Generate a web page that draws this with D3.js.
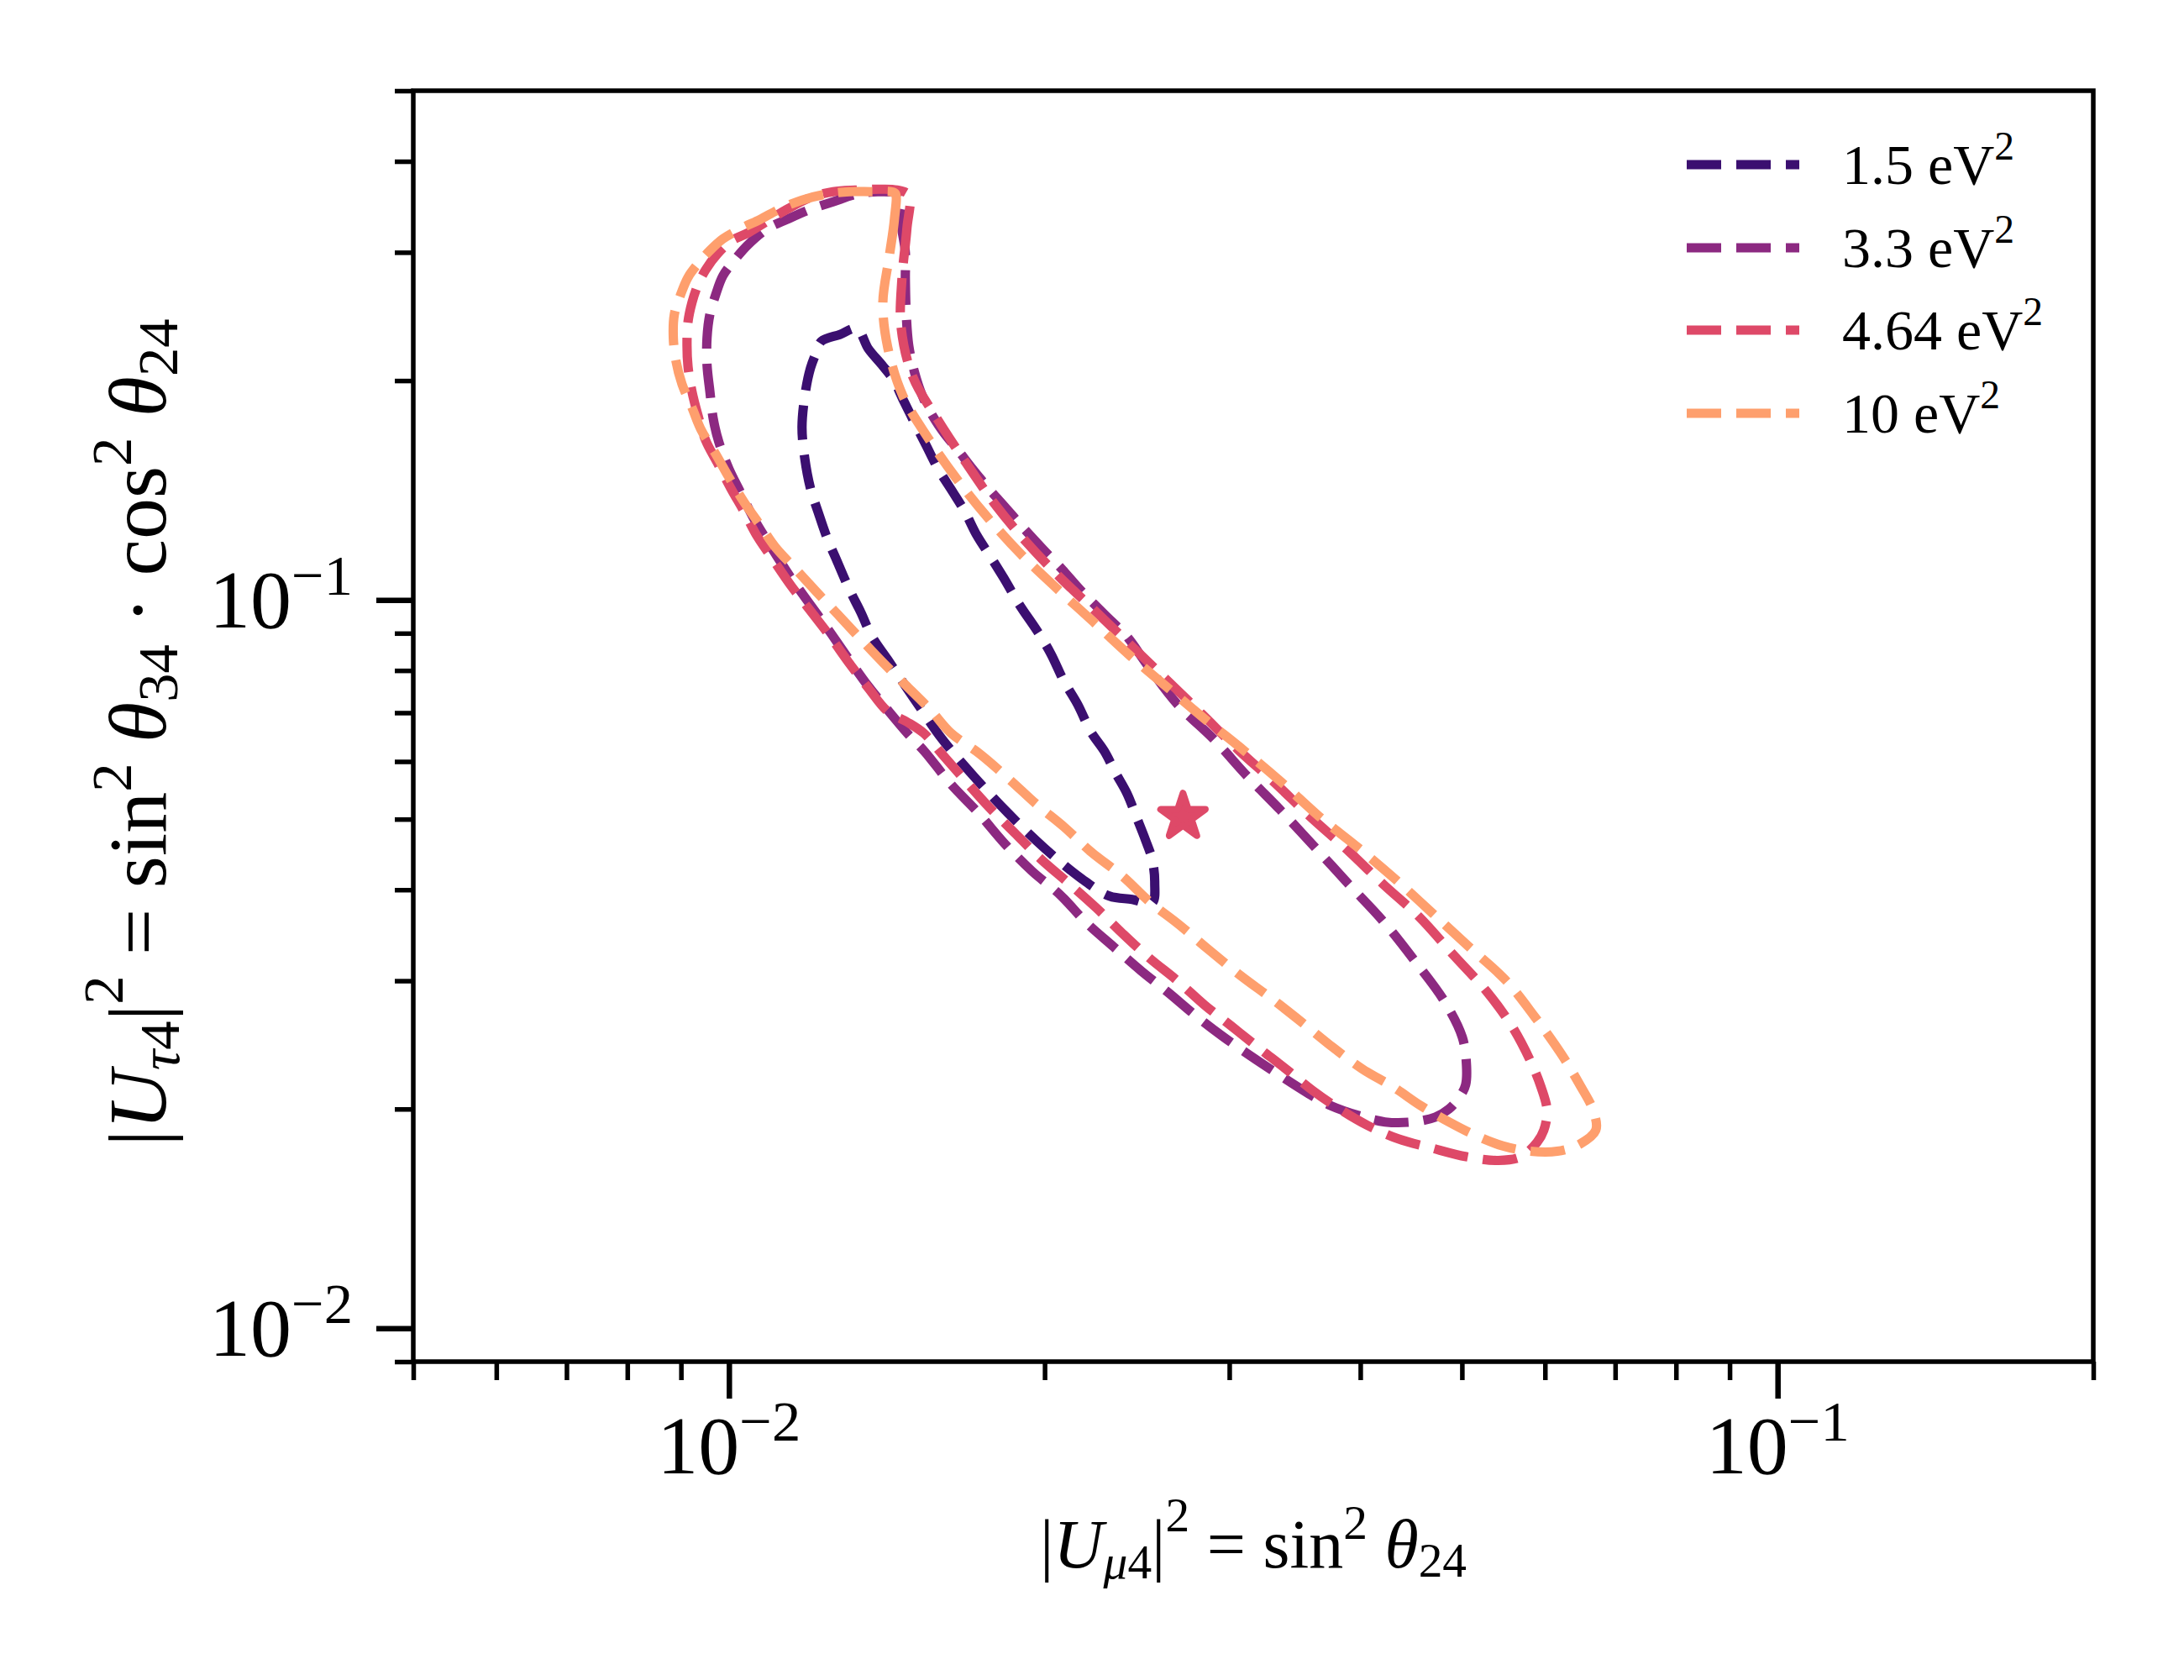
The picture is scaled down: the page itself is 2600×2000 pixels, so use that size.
<!DOCTYPE html>
<html>
<head>
<meta charset="utf-8">
<script src="https://cdn.jsdelivr.net/npm/d3@7"></script>
<style>
html,body{margin:0;padding:0;background:#fff;}
svg{display:block;}
</style>
</head>
<body>
<script>
// ---------- data ----------
const xMajorTicks = [0.01, 0.1];
const xMinorTicks = [0.005,0.006,0.007,0.008,0.009,0.02,0.03,0.04,0.05,0.06,0.07,0.08,0.09,0.2];
const yMajorTicks = [0.01, 0.1];
const yMinorTicks = [0.009,0.02,0.03,0.04,0.05,0.06,0.07,0.08,0.09,0.2,0.3,0.4,0.5];
const xTickExp = ["−2", "−1"];
const yTickExp = ["−2", "−1"];

const seriesLabels = ["1.5", "3.3", "4.64", "10"];
const seriesColors = ["#3b0f70", "#8c2981", "#de4968", "#fe9f6d"];

const contour_1_5 = [[0.01324,0.2357],[0.01358,0.2212],[0.01399,0.2102],[0.01435,0.2005],[0.01465,0.1886],[0.01503,0.1751],[0.01543,0.1626],[0.01583,0.1513],[0.01636,0.1404],[0.01679,0.1321],[0.01723,0.1227],[0.01781,0.1139],[0.01828,0.1072],[0.01893,0.0984],[0.01968,0.0906],[0.02027,0.0844],[0.02087,0.0773],[0.0215,0.0719],[0.02214,0.0659],[0.0228,0.0620],[0.0234,0.0577],[0.02397,0.0542],[0.02446,0.0504],[0.02496,0.0468],[0.02533,0.0440],[0.02547,0.0409],[0.02533,0.0384],[0.02424,0.0388],[0.02306,0.0392],[0.0217,0.0414],[0.01997,0.0457],[0.01845,0.0510],[0.01711,0.0573],[0.01597,0.0644],[0.01517,0.0716],[0.01465,0.0771],[0.01417,0.0828],[0.01368,0.0892],[0.01336,0.0961],[0.01302,0.1035],[0.01269,0.1127],[0.01241,0.1214],[0.01216,0.1321],[0.01196,0.1423],[0.01181,0.1566],[0.01174,0.1728],[0.01183,0.1932],[0.01196,0.2080],[0.01211,0.2183],[0.01225,0.2265],[0.01276,0.2314]];

const contour_3_3 = [[0.01465,0.3586],[0.01459,0.3311],[0.01473,0.3002],[0.01473,0.2757],[0.01476,0.2466],[0.01484,0.2235],[0.01503,0.2053],[0.01529,0.1906],[0.01562,0.1794],[0.01603,0.1696],[0.01652,0.1608],[0.01707,0.1513],[0.01768,0.1423],[0.01838,0.1336],[0.01907,0.1257],[0.0199,0.1176],[0.0208,0.1100],[0.0217,0.1027],[0.0228,0.0956],[0.02402,0.0887],[0.02501,0.0817],[0.02677,0.0719],[0.02899,0.0644],[0.0312,0.0573],[0.03359,0.0514],[0.03623,0.0457],[0.039,0.0407],[0.04207,0.0362],[0.04504,0.0320],[0.04805,0.0282],[0.05004,0.0251],[0.0505,0.0230],[0.05041,0.0216],[0.04977,0.0208],[0.04859,0.0200],[0.04717,0.0195],[0.04487,0.0192],[0.04223,0.0192],[0.03981,0.0196],[0.03752,0.0202],[0.0357,0.0210],[0.03328,0.0224],[0.03138,0.0237],[0.02953,0.0252],[0.02784,0.0269],[0.02624,0.0289],[0.02469,0.0310],[0.02327,0.0334],[0.02194,0.0360],[0.02068,0.0394],[0.01946,0.0424],[0.01834,0.0462],[0.01729,0.0510],[0.01627,0.0559],[0.01537,0.0619],[0.01478,0.0657],[0.01417,0.0706],[0.01358,0.0761],[0.01302,0.0828],[0.01248,0.0904],[0.01196,0.0984],[0.01146,0.1072],[0.01097,0.1182],[0.01057,0.1290],[0.01026,0.1404],[0.0100,0.1513],[0.00978,0.1647],[0.00966,0.1774],[0.00959,0.1932],[0.00953,0.2102],[0.00953,0.2289],[0.00959,0.2466],[0.00971,0.2621],[0.00987,0.2787],[0.01013,0.2931],[0.01043,0.3074],[0.01088,0.3233],[0.01136,0.3329],[0.01196,0.3437],[0.01257,0.3520],[0.01324,0.3605],[0.01394,0.3634]];

const contour_4_64 = [[0.01484,0.3595],[0.01478,0.3233],[0.01462,0.2757],[0.01459,0.2376],[0.01497,0.2026],[0.01588,0.1751],[0.01679,0.1550],[0.01798,0.1346],[0.01924,0.1198],[0.02068,0.1074],[0.02226,0.0971],[0.02411,0.0869],[0.02609,0.0779],[0.02825,0.0697],[0.03058,0.0623],[0.0331,0.0562],[0.03583,0.0504],[0.03879,0.0455],[0.04207,0.0407],[0.04553,0.0367],[0.04903,0.0326],[0.05279,0.0290],[0.05579,0.0260],[0.0581,0.0233],[0.05951,0.0214],[0.06028,0.0199],[0.05984,0.0187],[0.05896,0.0180],[0.05692,0.0172],[0.05417,0.0170],[0.0505,0.0172],[0.04666,0.0177],[0.04348,0.0182],[0.04062,0.0190],[0.03822,0.0200],[0.03604,0.0212],[0.03397,0.0227],[0.03196,0.0243],[0.03013,0.0260],[0.0284,0.0278],[0.02677,0.0300],[0.02519,0.0322],[0.02375,0.0348],[0.02239,0.0378],[0.02106,0.0409],[0.01986,0.0440],[0.01872,0.0479],[0.01771,0.0519],[0.01676,0.0567],[0.01597,0.0614],[0.01534,0.0656],[0.01478,0.0680],[0.01417,0.0703],[0.01358,0.0757],[0.01302,0.0819],[0.01248,0.0892],[0.01196,0.0966],[0.01146,0.1046],[0.01103,0.1133],[0.01065,0.1220],[0.01034,0.1321],[0.01004,0.1423],[0.00975,0.1542],[0.0095,0.1656],[0.00934,0.1794],[0.00922,0.1932],[0.00914,0.2092],[0.00912,0.2235],[0.00914,0.2408],[0.00922,0.2559],[0.00934,0.2706],[0.0095,0.2838],[0.00975,0.2985],[0.01007,0.3115],[0.01043,0.3190],[0.01088,0.3311],[0.01136,0.3437],[0.01196,0.3567],[0.01257,0.3634],[0.01324,0.3653],[0.01394,0.3663],[0.01446,0.3653]];

const contour_10 = [[0.01441,0.3614],[0.01438,0.3329],[0.01422,0.2962],[0.01402,0.2559],[0.01417,0.2223],[0.01465,0.1906],[0.01548,0.1669],[0.01649,0.1466],[0.01765,0.1297],[0.0190,0.1154],[0.02057,0.1035],[0.02226,0.0933],[0.02411,0.0839],[0.02628,0.0755],[0.02851,0.0684],[0.03103,0.0620],[0.03378,0.0559],[0.03656,0.0504],[0.03981,0.0457],[0.04333,0.0412],[0.04691,0.0371],[0.05078,0.0334],[0.05498,0.0301],[0.05864,0.0268],[0.06219,0.0238],[0.06476,0.0216],[0.06671,0.0199],[0.06708,0.0187],[0.06476,0.0179],[0.06163,0.0175],[0.0581,0.0175],[0.05468,0.0178],[0.05152,0.0184],[0.04859,0.0192],[0.04571,0.0202],[0.04309,0.0214],[0.04018,0.0227],[0.03767,0.0243],[0.03531,0.0262],[0.03298,0.0283],[0.03075,0.0305],[0.02867,0.0331],[0.02688,0.0358],[0.02519,0.0385],[0.02375,0.0417],[0.02214,0.0451],[0.02087,0.0488],[0.01968,0.0523],[0.01851,0.0567],[0.01736,0.0614],[0.01627,0.0657],[0.01557,0.0706],[0.01478,0.0761],[0.01404,0.0819],[0.01336,0.0883],[0.01269,0.0956],[0.01211,0.1027],[0.01155,0.1106],[0.01107,0.1182],[0.01071,0.1266],[0.01034,0.1361],[0.0100,0.1473],[0.00971,0.1587],[0.00941,0.1710],[0.00922,0.1837],[0.00902,0.1978],[0.0089,0.2131],[0.00885,0.2289],[0.00887,0.2466],[0.00899,0.2621],[0.00914,0.2772],[0.00934,0.2892],[0.00959,0.3017],[0.00987,0.3131],[0.01026,0.3233],[0.01071,0.3329],[0.01117,0.3437],[0.01174,0.3539],[0.01236,0.3605],[0.01302,0.3634],[0.01368,0.3634],[0.01427,0.3634]];

const contours = [contour_1_5, contour_3_3, contour_4_64, contour_10];
const bestFit = [0.0271, 0.0504];

// ---------- layout ----------
const W = 2600, H = 2000;
const L = 492, R = 2492, T = 108, B = 1621;
const FONT = "'Liberation Serif', 'DejaVu Serif', serif";
const LW = 11.1;
const DASH = "41,18";

const svg = d3.select("body").append("svg")
  .attr("width", W).attr("height", H).attr("viewBox", `0 0 ${W} ${H}`);
svg.append("rect").attr("width", W).attr("height", H).attr("fill", "#fff");

const x = d3.scaleLog().domain([0.005, 0.2]).range([L, R]);
const y = d3.scaleLog().domain([0.009, 0.5]).range([B, T]);

// rich text helper: parts = [text, {i: italic, sz: scale, sh: shift(em, +down)}]
function rich(parent, parts, fs, attrs) {
  const t = parent.append("text").attr("font-family", FONT).attr("font-size", fs).attr("fill", "#000");
  Object.entries(attrs || {}).forEach(([k, v]) => t.attr(k, v));
  let cur = 0;
  parts.forEach(p => {
    const o = p[1] || {};
    const sh = (o.sh || 0) * fs;
    const ts = t.append("tspan").text(p[0])
      .attr("font-size", fs * (o.sz || 1))
      .attr("dy", sh - cur);
    if (o.i) ts.attr("font-style", "italic");
    cur = sh;
  });
  return t;
}

// ---------- contours ----------
const line = d3.line().x(d => x(d[0])).y(d => y(d[1])).curve(d3.curveCatmullRomClosed.alpha(0.5));
const gC = svg.append("g");
contours.forEach((c, k) => {
  gC.append("path").attr("d", line(c))
    .attr("fill", "none").attr("stroke", seriesColors[k])
    .attr("stroke-width", LW).attr("stroke-dasharray", DASH)
    .attr("stroke-linejoin", "round").attr("stroke-linecap", "butt");
});

// best-fit star
const starPts = [];
for (let k = 0; k < 10; k++) {
  const r = k % 2 === 0 ? 28 : 28 * 0.381966;
  const a = -Math.PI / 2 + k * Math.PI / 5;
  starPts.push([r * Math.cos(a), r * Math.sin(a)]);
}
svg.append("path")
  .attr("d", "M" + starPts.map(p => p.join(",")).join("L") + "Z")
  .attr("transform", `translate(${x(bestFit[0])},${y(bestFit[1])})`)
  .attr("fill", seriesColors[2]).attr("stroke", seriesColors[2])
  .attr("stroke-width", 8).attr("stroke-linejoin", "round");

// ---------- axes ----------
function styleAxis(g, w) {
  g.select(".domain").remove();
  g.selectAll(".tick line").attr("stroke", "#000").attr("stroke-width", w);
  g.selectAll(".tick text").remove();
}
svg.append("g").attr("transform", `translate(0,${B})`)
  .call(d3.axisBottom(x).tickValues(xMinorTicks).tickSize(22).tickSizeOuter(0).tickFormat(""))
  .call(g => styleAxis(g, 5.5));
svg.append("g").attr("transform", `translate(0,${B})`)
  .call(d3.axisBottom(x).tickValues(xMajorTicks).tickSize(44).tickSizeOuter(0).tickFormat(""))
  .call(g => styleAxis(g, 6.5));
svg.append("g").attr("transform", `translate(${L},0)`)
  .call(d3.axisLeft(y).tickValues(yMinorTicks).tickSize(22).tickSizeOuter(0).tickFormat(""))
  .call(g => styleAxis(g, 5.5));
svg.append("g").attr("transform", `translate(${L},0)`)
  .call(d3.axisLeft(y).tickValues(yMajorTicks).tickSize(44).tickSizeOuter(0).tickFormat(""))
  .call(g => styleAxis(g, 6.5));

// frame
svg.append("rect").attr("x", L).attr("y", T).attr("width", R - L).attr("height", B - T)
  .attr("fill", "none").attr("stroke", "#000").attr("stroke-width", 5.5);

// tick labels
const TFS = 98;
xMajorTicks.forEach((v, k) => {
  rich(svg, [["10"], [xTickExp[k], {sz: 0.7, sh: -0.4}]], TFS,
    {x: x(v), y: 1754, "text-anchor": "middle"});
});
yMajorTicks.forEach((v, k) => {
  rich(svg, [["10"], [yTickExp[k], {sz: 0.7, sh: -0.4}]], TFS,
    {x: 420, y: y(v) + 33, "text-anchor": "end"});
});

// axis labels
rich(svg, [
  ["|"], ["U", {i: true}], ["μ", {i: true, sz: 0.7, sh: 0.16}], ["4", {sz: 0.7, sh: 0.16}],
  ["|"], ["2", {sz: 0.7, sh: -0.52}], [" = "], ["sin"], ["2", {sz: 0.7, sh: -0.42}],
  [" "], ["θ", {i: true}], ["24", {sz: 0.7, sh: 0.14}]
], 82, {x: (L + R) / 2, y: 1866, "text-anchor": "middle"});

rich(svg, [
  ["|"], ["U", {i: true}], ["τ", {i: true, sz: 0.7, sh: 0.16}], ["4", {sz: 0.7, sh: 0.16}],
  ["|"], ["2", {sz: 0.7, sh: -0.52}], [" = "], ["sin"], ["2", {sz: 0.7, sh: -0.42}],
  [" "], ["θ", {i: true}], ["34", {sz: 0.7, sh: 0.14}], [" · "], ["cos"], ["2", {sz: 0.7, sh: -0.42}],
  [" "], ["θ", {i: true}], ["24", {sz: 0.7, sh: 0.14}]
], 98, {"text-anchor": "middle", transform: `translate(197,872) rotate(-90)`});

// ---------- legend ----------
const legRowY = [196, 295, 393, 492];
seriesLabels.forEach((lab, k) => {
  svg.append("line").attr("x1", 2008).attr("x2", 2142)
    .attr("y1", legRowY[k]).attr("y2", legRowY[k])
    .attr("stroke", seriesColors[k]).attr("stroke-width", LW)
    .attr("stroke-dasharray", DASH).attr("stroke-linecap", "butt");
  rich(svg, [[lab + " eV"], ["2", {sz: 0.7, sh: -0.42}]], 68,
    {x: 2193, y: legRowY[k] + 23});
});
</script>
</body>
</html>
